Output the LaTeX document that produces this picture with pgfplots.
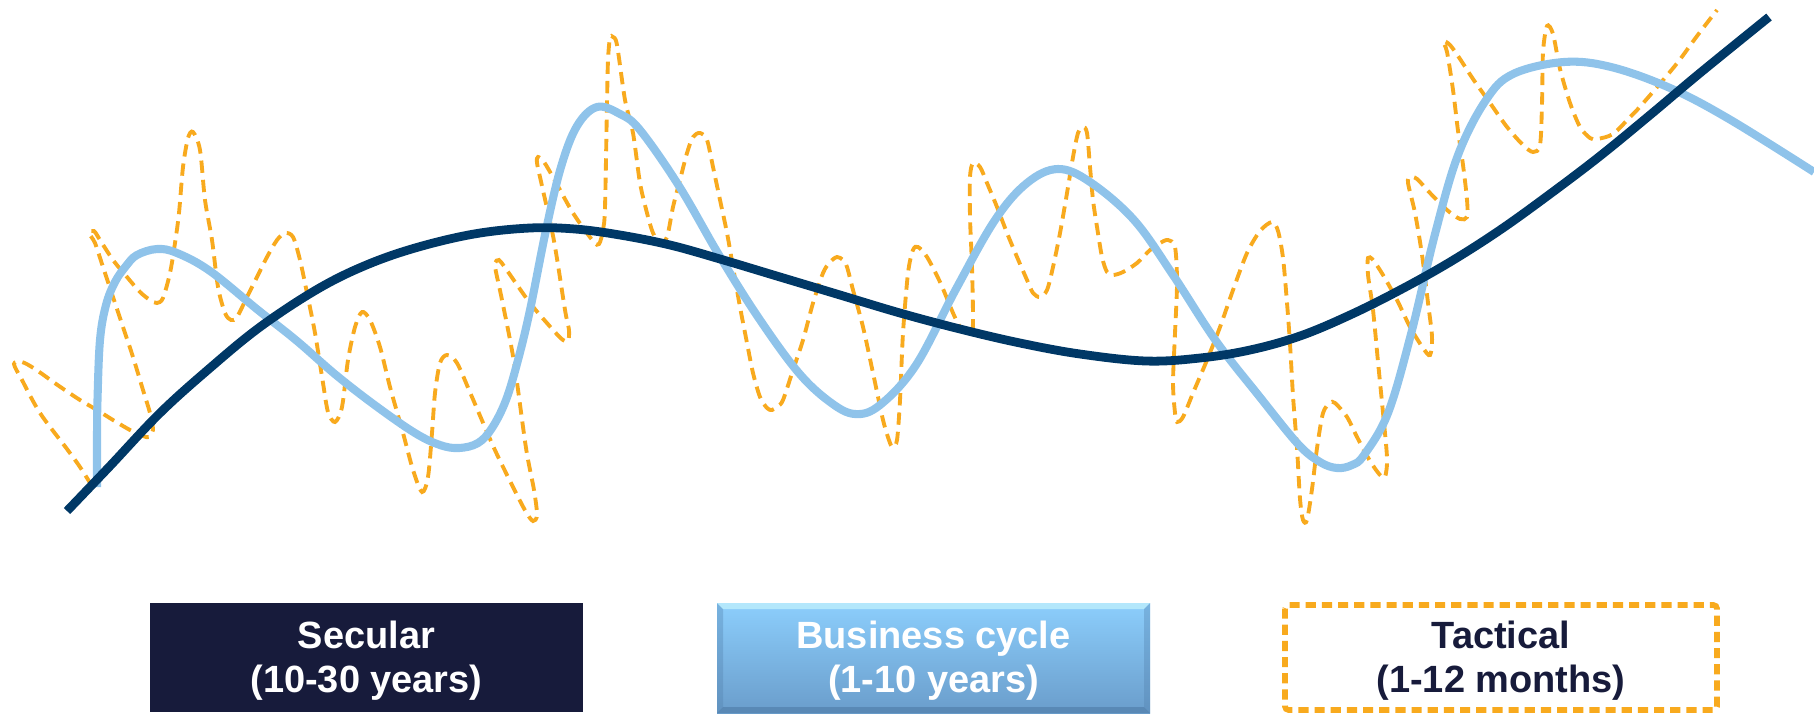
\documentclass[border=0pt]{standalone}
\usepackage{pgfplots}
\pgfplotsset{compat=1.18}
\usepackage{fontspec}
\setmainfont{Liberation Sans}
\usetikzlibrary{shadings}

\definecolor{secular}{RGB}{0,56,102}
\definecolor{cycle}{RGB}{143,195,234}
\definecolor{tactical}{RGB}{248,170,30}
\definecolor{navybox}{RGB}{23,27,59}
\definecolor{cycletop}{RGB}{140,206,252}
\definecolor{cyclebot}{RGB}{106,157,203}
\definecolor{cyclehi}{RGB}{190,238,252}
\definecolor{cyclelo}{RGB}{82,128,172}

\begin{document}
\begin{tikzpicture}
\begin{axis}[
  scale only axis,
  width=18.14cm, height=7.15cm,
  xmin=0, xmax=1814, ymin=0, ymax=715,
  y dir=reverse,
  hide axis,
  enlargelimits=false,
]
% frame of the drawing area
\path (axis cs:0,0) rectangle (axis cs:1814,715);

% tactical swings (1-12 months)
\addplot[tactical, line width=1.1pt, dash pattern=on 3.5pt off 2pt,
  smooth, tension=0.5] coordinates {
  (92,486) (80,467) (67,449) (40,413) (22,380) (14,364) (22,362) (35,369)
  (59,386) (80,400) (97,410) (113,420) (130,430) (143,436) (149,437)
  (153,430) (150,413) (143,390) (133,357) (123,327) (113,297) (103,267)
  (95,243) (89,233) (94,231) (100,240) (113,260) (127,277) (140,292)
  (150,300) (157,303) (163,298) (170,273) (175,243) (179,213) (183,167)
  (188,138) (193,132) (200,150) (205,200) (212,240) (218,287) (225,313)
  (231,320) (237,317) (247,297) (257,277) (267,257) (277,240) (285,233)
  (293,237) (300,260) (307,293) (315,333) (323,383) (328,412) (335,422)
  (342,407) (348,360) (355,327) (362,312) (370,320) (380,347) (390,387)
  (403,433) (413,470) (422,492) (428,477) (432,433) (435,393) (440,363)
  (447,355) (457,363) (472,397) (494,448) (514,489) (526,512) (533,521)
  (537,515) (534,490) (526,448) (514,362) (502,300) (496,272) (495,263)
  (499,260) (506,269) (530,303) (554,331) (563,340) (568,341) (569,330)
  (565,310) (554,241) (542,186) (537,163) (538,157) (544,162) (554,179)
  (573,213) (593,241) (599,244) (603,230) (605,207) (607,103) (608,60)
  (610,38) (613,37) (617,45) (625,100) (633,133) (640,183) (647,213)
  (653,233) (660,243) (667,237) (673,207) (680,180) (687,153) (693,137)
  (700,133) (707,140) (713,167) (720,200) (727,233) (733,267) (740,307)
  (747,343) (753,373) (760,397) (767,408) (772,410) (778,406) (783,400)
  (793,370) (803,340) (813,303) (823,273) (830,262) (837,257) (843,260)
  (847,267) (853,290) (863,327) (873,373) (883,420) (890,443) (893,447)
  (897,440) (900,400) (903,333) (908,273) (913,250) (918,247) (927,257)
  (940,282) (953,313) (960,327) (967,333) (972,333) (973,317) (972,267)
  (970,217) (970,177) (973,163) (980,167) (987,183) (997,207) (1007,233)
  (1017,257) (1027,280) (1033,293) (1040,297) (1047,290) (1053,267)
  (1060,233) (1067,193) (1073,157) (1078,133) (1083,127) (1087,133)
  (1090,167) (1093,200) (1097,227) (1102,257) (1107,272) (1113,275)
  (1123,272) (1137,263) (1150,250) (1160,243) (1168,240) (1175,247)
  (1177,283) (1175,333) (1173,383) (1175,413) (1177,422) (1183,417)
  (1193,393) (1207,360) (1220,327) (1233,290) (1247,253) (1260,231)
  (1272,222) (1278,231) (1283,258) (1287,303) (1290,344) (1293,396)
  (1297,448) (1300,499) (1303,520) (1307,520) (1312,489) (1317,448)
  (1323,413) (1330,403) (1335,403) (1347,417) (1357,437) (1370,461)
  (1380,475) (1385,477) (1387,458) (1383,413) (1378,362) (1373,310)
  (1368,275) (1368,258) (1373,260) (1383,275) (1397,300) (1410,327)
  (1423,348) (1430,355) (1432,337) (1428,303) (1422,255) (1415,213)
  (1408,183) (1410,177) (1417,179) (1430,193) (1447,210) (1460,219)
  (1467,217) (1467,200) (1463,165) (1458,131) (1453,90) (1447,52)
  (1443,41) (1450,45) (1460,59) (1473,79) (1490,103) (1507,127)
  (1523,145) (1533,152) (1540,145) (1542,103) (1543,52) (1547,26)
  (1553,34) (1560,69) (1570,103) (1580,127) (1590,138) (1597,139)
  (1613,134) (1630,117) (1637,110) (1658,86) (1678,62) (1697,36)
  (1717,10)
};

% business cycle (1-10 years)
\addplot[cycle, line width=2.3pt, smooth, tension=0.6] coordinates {
  (97,487) (97,440) (97.5,400) (100,340) (106,305) (115,282) (126,266)
  (137,255) (157,249) (177,253) (210,271) (258,310) (297,341) (336,375)
  (376,406) (415,433) (440,445) (459,448) (478,443) (492,428) (506,400)
  (518,360) (530,310) (546,230) (561,167) (577,126) (597,107) (620,114)
  (640,130) (679,186) (719,255) (758,317) (798,372) (830,402) (855,414)
  (880,405) (916,365) (956,289) (995,220) (1027,183) (1058,169) (1090,182)
  (1134,220) (1173,275) (1216,341) (1259,396) (1298,444) (1320,462)
  (1337,468) (1352,465) (1364,455) (1388,413) (1411,334) (1435,234)
  (1458,155) (1486,100) (1513,74) (1564,62) (1611,67) (1670,88)
  (1729,119) (1814,172)
};

% secular trend (10-30 years)
\addplot[secular, line width=2.5pt, smooth, tension=0.6] coordinates {
  (67,511) (110,466) (160,413) (210,368) (260,327) (316,290) (364,266)
  (415,248) (474,234) (530,228) (575,229) (620,235) (670,245) (720,259)
  (780,277) (840,295) (900,313) (960,329) (1020,343) (1080,354)
  (1146,361) (1200,358) (1250,350) (1300,336) (1350,315) (1400,290)
  (1450,262) (1500,230) (1550,194) (1600,156) (1650,115) (1700,73)
  (1769,17)
};

% key boxes
\fill[navybox] (axis cs:150,603) rectangle (axis cs:583,712);
\node[text=white, align=center, font=\bfseries\fontsize{10.8}{12.6}\selectfont]
  at (axis cs:366.5,661) {Secular\\(10-30 years)};

\shade[top color=cycletop, bottom color=cyclebot]
  (axis cs:717,603) rectangle (axis cs:1150,713);
\fill[cyclehi, opacity=0.8] (axis cs:717,603) -- (axis cs:1150,603)
  -- (axis cs:1144,609) -- (axis cs:723,609) -- cycle;
\fill[cyclelo, opacity=0.7] (axis cs:717,713) -- (axis cs:1150,713)
  -- (axis cs:1144,707) -- (axis cs:723,707) -- cycle;
\fill[cyclelo, opacity=0.35] (axis cs:717,603) -- (axis cs:723,609)
  -- (axis cs:723,707) -- (axis cs:717,713) -- cycle;
\fill[cyclelo, opacity=0.35] (axis cs:1150,603) -- (axis cs:1144,609)
  -- (axis cs:1144,707) -- (axis cs:1150,713) -- cycle;
\node[text=white, align=center, font=\bfseries\fontsize{10.8}{12.6}\selectfont]
  at (axis cs:933.5,661) {Business cycle\\(1-10 years)};

\draw[tactical, fill=white, line width=1.6pt, dash pattern=on 2.9pt off 1.7pt,
  rounded corners=1pt] (axis cs:1285,605) rectangle (axis cs:1717,710);
\node[text=navybox, align=center, font=\bfseries\fontsize{10.8}{12.6}\selectfont]
  at (axis cs:1501,661) {Tactical\\(1-12 months)};
\end{axis}
\end{tikzpicture}
\end{document}
